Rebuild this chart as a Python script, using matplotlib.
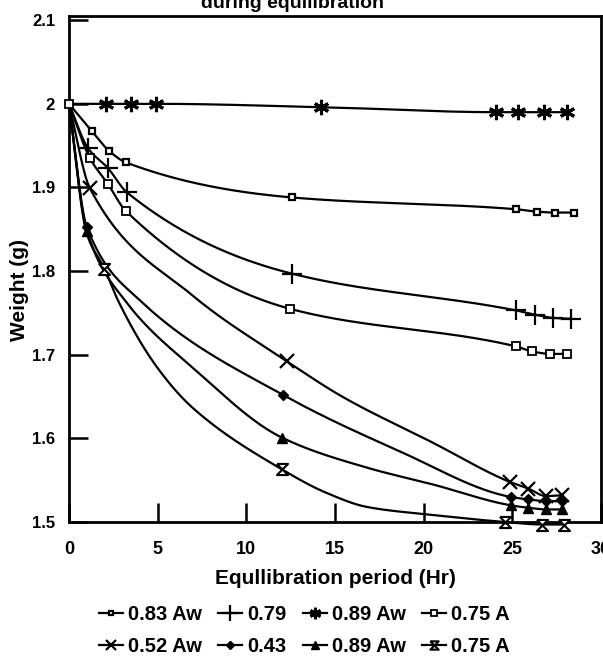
import numpy as np
import matplotlib
matplotlib.use("Agg")
import matplotlib.pyplot as plt
from matplotlib.path import Path

plt.rcParams['font.family'] = ['Liberation Sans', 'DejaVu Sans']
plt.rcParams['font.weight'] = 'bold'

# values (hours, grams)
x_083 = [0, 1.3, 2.25, 3.2, 12.6, 25.2, 26.4, 27.4, 28.5]
y_083 = [2.0, 1.967, 1.944, 1.930, 1.888, 1.874, 1.871, 1.870, 1.870]
x_079 = [0, 1.07, 2.2, 3.27, 12.56, 25.2, 26.25, 27.3, 28.3]
y_079 = [2.0, 1.947, 1.923, 1.894, 1.797, 1.753, 1.748, 1.744, 1.743]
x_089 = [0, 2.1, 3.5, 4.9, 14.2, 24.1, 25.3, 26.8, 28.1]
y_089 = [2.0, 2.0, 2.0, 2.0, 1.996, 1.99, 1.99, 1.99, 1.99]
x_075 = [0, 1.18, 2.2, 3.2, 12.45, 25.2, 26.1, 27.15, 28.1]
y_075 = [2.0, 1.935, 1.904, 1.872, 1.755, 1.710, 1.704, 1.701, 1.701]
x_052 = [0, 1.18, 6.9, 12.3, 15.4, 20.5, 24.85, 25.9, 26.9, 27.8]
y_052 = [2.0, 1.899, 1.772, 1.692, 1.650, 1.595, 1.548, 1.540, 1.531, 1.532]
x_043 = [0, 1.0, 4.0, 12.06, 18.6, 24.9, 25.9, 26.9, 27.8]
y_043 = [2.0, 1.853, 1.765, 1.652, 1.585, 1.530, 1.527, 1.525, 1.525]
x_089b = [0, 1.0, 3.15, 7.0, 12.0, 16.8, 20.5, 24.9, 25.9, 26.9, 27.8]
y_089b = [2.0, 1.848, 1.765, 1.684, 1.601, 1.565, 1.545, 1.520, 1.517, 1.515, 1.515]
x_075b = [0, 1.0, 2.0, 2.76, 5.0, 7.0, 12.0, 14.5, 16.8, 20.2, 24.6, 26.7, 27.9]
y_075b = [2.0, 1.845, 1.803, 1.765, 1.684, 1.636, 1.563, 1.535, 1.518, 1.509, 1.500, 1.497, 1.497]

# which points carry a marker in the reference
mark_052 = [1, 3, 6, 7, 8, 9]
mark_043 = [1, 3, 5, 6, 7, 8]
mark_089b = [1, 4, 7, 8, 9, 10]
mark_075b = [2, 6, 10, 11, 12]

labels = ['0.83 Aw', '0.79', '0.89 Aw', '0.75 A', '0.52 Aw', '0.43', '0.89 Aw', '0.75 A']

hourglass = Path([(-1, 1), (1, 1), (-1, -1), (1, -1), (-1, 1)])


def smooth(x, y, n=400):
    # monotone cubic (pchip) just for drawing the smoothed line
    x = np.asarray(x, float)
    y = np.asarray(y, float)
    h = np.diff(x)
    d = np.diff(y) / h
    m = np.zeros_like(y)
    for k in range(1, len(x) - 1):
        if d[k - 1] * d[k] > 0:
            w1 = 2 * h[k] + h[k - 1]
            w2 = h[k] + 2 * h[k - 1]
            m[k] = (w1 + w2) / (w1 / d[k - 1] + w2 / d[k])
    m[0] = d[0]
    m[-1] = d[-1]
    xs = np.linspace(x[0], x[-1], n)
    idx = np.clip(np.searchsorted(x, xs) - 1, 0, len(x) - 2)
    t = (xs - x[idx]) / h[idx]
    h00 = 2 * t**3 - 3 * t**2 + 1
    h10 = t**3 - 2 * t**2 + t
    h01 = -2 * t**3 + 3 * t**2
    h11 = t**3 - t**2
    ys = h00 * y[idx] + h10 * h[idx] * m[idx] + h01 * y[idx + 1] + h11 * h[idx] * m[idx + 1]
    return xs, ys


fig = plt.figure(figsize=(6.03, 6.58), dpi=100)
ax = fig.add_axes([69 / 603, 1 - 522 / 658, 532 / 603, 506 / 658])

series = [
    (x_083, y_083, list(range(1, 9)), dict(marker='s', ms=4.5, mfc='white', mew=1.6)),
    (x_079, y_079, list(range(1, 9)), dict(marker='+', ms=15, mew=1.6)),
    (x_089, y_089, list(range(1, 9)), dict(marker=(6, 2, 0), ms=11, mew=2.2)),
    (x_075, y_075, list(range(0, 9)), dict(marker='s', ms=6, mfc='white', mew=1.3)),
    (x_052, y_052, mark_052, dict(marker='x', ms=10, mew=1.6)),
    (x_043, y_043, mark_043, dict(marker='D', ms=5, mfc='black')),
    (x_089b, y_089b, mark_089b, dict(marker='^', ms=7, mfc='black')),
    (x_075b, y_075b, mark_075b, dict(marker=hourglass, ms=8, mfc='white', mew=1.5)),
]

handles = []
for xv, yv, marks, mk in series:
    xs, ys = smooth(xv, yv)
    ax.plot(xs, ys, color='black', lw=1.6, clip_on=False)
    ax.plot([xv[k] for k in marks], [yv[k] for k in marks], ls='none', color='black',
            mec='black', clip_on=False, zorder=3, **mk)
    h, = ax.plot([], [], color='black', lw=1.6, mec='black', **mk)
    handles.append(h)

ax.set_xlim(0, 30)
ax.set_ylim(1.5, 2.105)
ax.set_xticks([0, 5, 10, 15, 20, 25, 30])
ax.set_yticks([1.5, 1.6, 1.7, 1.8, 1.9, 2.0, 2.1])
ax.set_yticklabels(['1.5', '1.6', '1.7', '1.8', '1.9', '2', '2.1'])
ax.tick_params(axis='both', direction='in', length=14, width=1.8)
ax.tick_params(axis='x', pad=14, labelsize=13)
ax.tick_params(axis='y', pad=10, labelsize=12)
for sp in ax.spines.values():
    sp.set_linewidth(2)

fig.text(0.485, 1 - 8 / 658, 'during equilibration', ha='center', va='baseline',
         fontsize=14, fontweight='bold')
fig.text(20 / 603, 1 - 290 / 658, 'Weight (g)', rotation=90, ha='center', va='center',
         fontsize=15, fontweight='bold')
fig.text(335 / 603, 1 - 578 / 658, 'Equllibration period (Hr)', ha='center', va='center',
         fontsize=15, fontweight='bold')

order = [0, 4, 1, 5, 2, 6, 3, 7]
fig.legend([handles[k] for k in order], [labels[k] for k in order], ncol=4,
           loc='upper center', bbox_to_anchor=(0.505, 1 - 597 / 658), frameon=False,
           prop={'size': 14.5, 'weight': 'bold'}, handlelength=1.2, handletextpad=0.25,
           columnspacing=0.8, labelspacing=0.65, borderaxespad=0, markerscale=0.75)

fig.savefig('out.png', dpi=100)
